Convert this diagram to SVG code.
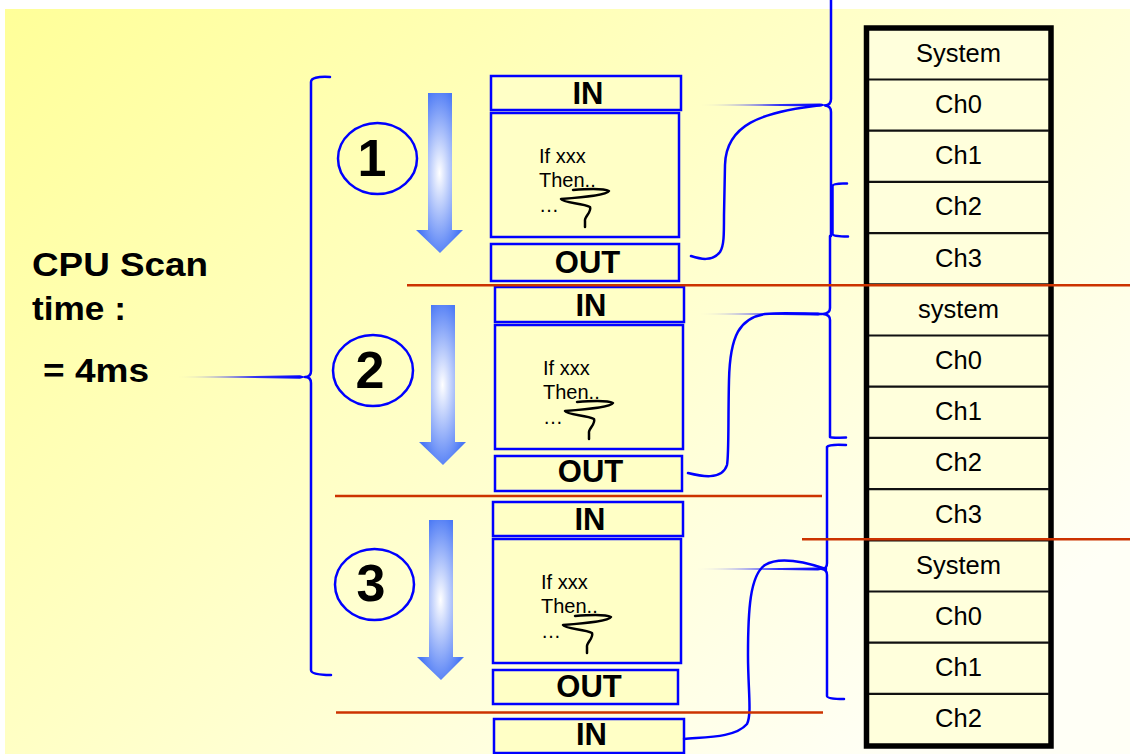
<svg xmlns="http://www.w3.org/2000/svg" width="1130" height="754" viewBox="0 0 1130 754">
<defs>
<linearGradient id="bg" x1="0" y1="0" x2="1" y2="0.7">
<stop offset="0" stop-color="#FFFF99"/>
<stop offset="0.55" stop-color="#FFFFCC"/>
<stop offset="1" stop-color="#FFFFF6"/>
</linearGradient>
<radialGradient id="arr" cx="0.5" cy="0.5" r="0.55">
<stop offset="0" stop-color="#FFFFFF"/>
<stop offset="1" stop-color="#4A78F5"/>
</radialGradient>
<linearGradient id="fade" x1="0" y1="0" x2="1" y2="0">
<stop offset="0" stop-color="#0000FF" stop-opacity="0"/>
<stop offset="0.6" stop-color="#0000FF" stop-opacity="0.8"/>
<stop offset="1" stop-color="#0000FF"/>
</linearGradient>
<path id="arrowShape" d="M0,0 H24 V137 H35 L12,160 L-12,137 H0 Z"/>
<g id="prog">
<rect class="box" x="0" y="0" width="188" height="124"/>
<text class="code" x="48" y="50">If xxx</text>
<text class="code" x="48" y="74">Then..</text>
<text class="code" x="48" y="99">…</text>
<path class="squig" d="M82,77 C95,76 112,75 118,78 C116,82 95,84 70,86 C72,90 92,90 99,94 C101,99 93,104 94,108 L94,114"/>
</g>
</defs>
<style>
.box{fill:#FFFFC6;stroke:#0000FF;stroke-width:2.5}
.code{font-family:"Liberation Sans",Arial,sans-serif;font-size:20px;fill:#000}
.io{font-family:"Liberation Sans",Arial,sans-serif;font-size:31px;font-weight:bold;fill:#000;text-anchor:middle}
.num{font-family:"Liberation Sans",Arial,sans-serif;font-size:52px;font-weight:bold;fill:#000;text-anchor:middle}
.lbl{font-family:"Liberation Sans",Arial,sans-serif;font-size:34px;font-weight:bold;fill:#000}
.cell{font-family:"Liberation Sans",Arial,sans-serif;font-size:25.5px;fill:#000;text-anchor:middle}
.squig{fill:none;stroke:#000;stroke-width:2.5;stroke-linecap:round;stroke-linejoin:round}
.blue{fill:none;stroke:#0000FF;stroke-width:2.5;stroke-linecap:round;stroke-linejoin:round}
.red{stroke:#CC3300;stroke-width:2.5}
.circ{fill:none;stroke:#0000FF;stroke-width:2.5}
.div{stroke:#111;stroke-width:2.2}
</style>
<rect x="0" y="0" width="1130" height="754" fill="#FFFFFF"/>
<rect x="5" y="9" width="1125" height="745" fill="url(#bg)"/>

<g id="label">
<text class="lbl" x="32" y="276" textLength="176" lengthAdjust="spacingAndGlyphs">CPU Scan</text>
<text class="lbl" x="32" y="320" textLength="94" lengthAdjust="spacingAndGlyphs">time :</text>
<text class="lbl" x="43" y="382" textLength="106" lengthAdjust="spacingAndGlyphs">= 4ms</text>
</g>

<g id="step1">
<ellipse class="circ" cx="377.5" cy="158.5" rx="39.5" ry="35.5"/>
<text class="num" x="372" y="176">1</text>
<use href="#arrowShape" x="428" y="93" fill="url(#arr)"/>
</g>
<g id="step2">
<ellipse class="circ" cx="373" cy="370.5" rx="40" ry="35.5"/>
<text class="num" x="370" y="388">2</text>
<use href="#arrowShape" x="431" y="305" fill="url(#arr)"/>
</g>
<g id="step3">
<ellipse class="circ" cx="374.5" cy="584.5" rx="39.5" ry="35.5"/>
<text class="num" x="371" y="601">3</text>
<use href="#arrowShape" x="429" y="520" fill="url(#arr)"/>
</g>

<g id="scan1">
<rect class="box" x="491" y="76" width="190" height="34"/>
<text class="io" x="588" y="104">IN</text>
<use href="#prog" x="491" y="113"/>
<rect class="box" x="491" y="244" width="188" height="37"/>
<text class="io" x="587.5" y="272.5">OUT</text>
</g>
<g id="scan2">
<rect class="box" x="495" y="287" width="189" height="35"/>
<text class="io" x="591" y="316">IN</text>
<use href="#prog" x="495" y="325"/>
<rect class="box" x="495" y="456" width="187" height="35"/>
<text class="io" x="590.5" y="482">OUT</text>
</g>
<g id="scan3">
<rect class="box" x="493" y="502" width="190" height="34"/>
<text class="io" x="590" y="529.5">IN</text>
<use href="#prog" x="493" y="539"/>
<rect class="box" x="493" y="670" width="185" height="34"/>
<text class="io" x="589" y="697">OUT</text>
</g>
<g id="scan4">
<rect class="box" x="494" y="719" width="190" height="34"/>
<text class="io" x="591.5" y="745">IN</text>
</g>

<g id="table">
<rect x="866.5" y="28" width="184.5" height="718" fill="#FFFFDC" stroke="#000" stroke-width="5.5"/>
<line class="div" x1="869" y1="79.5" x2="1049" y2="79.5"/>
<line class="div" x1="869" y1="130.7" x2="1049" y2="130.7"/>
<line class="div" x1="869" y1="181.9" x2="1049" y2="181.9"/>
<line class="div" x1="869" y1="233.1" x2="1049" y2="233.1"/>
<line class="div" x1="869" y1="284.3" x2="1049" y2="284.3"/>
<line class="div" x1="869" y1="335.5" x2="1049" y2="335.5"/>
<line class="div" x1="869" y1="386.7" x2="1049" y2="386.7"/>
<line class="div" x1="869" y1="437.9" x2="1049" y2="437.9"/>
<line class="div" x1="869" y1="489.1" x2="1049" y2="489.1"/>
<line class="div" x1="869" y1="540.3" x2="1049" y2="540.3"/>
<line class="div" x1="869" y1="591.5" x2="1049" y2="591.5"/>
<line class="div" x1="869" y1="642.7" x2="1049" y2="642.7"/>
<line class="div" x1="869" y1="693.9" x2="1049" y2="693.9"/>
<text class="cell" x="958.5" y="62">System</text>
<text class="cell" x="958.5" y="113">Ch0</text>
<text class="cell" x="958.5" y="164.2">Ch1</text>
<text class="cell" x="958.5" y="215.4">Ch2</text>
<text class="cell" x="958.5" y="266.6">Ch3</text>
<text class="cell" x="958.5" y="318">system</text>
<text class="cell" x="958.5" y="369">Ch0</text>
<text class="cell" x="958.5" y="420.2">Ch1</text>
<text class="cell" x="958.5" y="471.4">Ch2</text>
<text class="cell" x="958.5" y="522.6">Ch3</text>
<text class="cell" x="958.5" y="573.8">System</text>
<text class="cell" x="958.5" y="625">Ch0</text>
<text class="cell" x="958.5" y="676.2">Ch1</text>
<text class="cell" x="958.5" y="727.4">Ch2</text>
</g>

<g id="connectors">
<path class="blue" d="M330,77 Q311,76 311,82 L311,371 Q311,377 305,377 Q311,377 311,383 L311,670 Q311,675 331,675"/>
<polygon points="175,377 300,375.3 306,377 300,378.7" fill="url(#fade)"/>
<polygon points="698,105 820,103.6 827,105 820,106.6" fill="url(#fade)"/>
<polygon points="697,314 818,312.6 824,314 818,315.4" fill="url(#fade)"/>
<polygon points="694,569 818,567.6 826,569 818,570.4" fill="url(#fade)"/>
<path class="blue" d="M831,0 L831,99 Q831,105 825,105.5 Q831,106 831,112 L831,236"/>
<path class="blue" d="M847,183.5 Q833,183 832.5,186 L832.5,234 Q833,236.5 848,236.5"/>
<path class="blue" d="M830,236 L830,308 Q830,313.5 823,314 Q830,314.5 830,320 L830,437 Q831,438 846,437.5"/>
<path class="blue" d="M846,445 Q829,444 827,447 L827,563 Q827,569 822,569 Q827,569.5 827,575 L827,696 Q827,699 844,699"/>
<path class="blue" d="M691,256 C700,259 712,262 720,252 C724,246 724,235 724,215 L725,165 C726,125 760,112 822,105"/>
<path class="blue" d="M688,473 C700,476 722,481 727,465 C729,455 728,420 729,380 C730,335 740,318 765,314 C785,312 805,314 822,314"/>
<path class="blue" d="M684,739 C705,737 735,738 747,724 C752,714 748,690 748,655 C748,610 750,575 765,565 C780,556 805,562 826,569"/>
<line class="red" x1="407" y1="285.3" x2="1130" y2="285.3"/>
<line class="red" x1="335" y1="496" x2="822" y2="496"/>
<line class="red" x1="802" y1="539.3" x2="1130" y2="539.3"/>
<line class="red" x1="336" y1="712.5" x2="823" y2="712.5"/>
</g>
</svg>
